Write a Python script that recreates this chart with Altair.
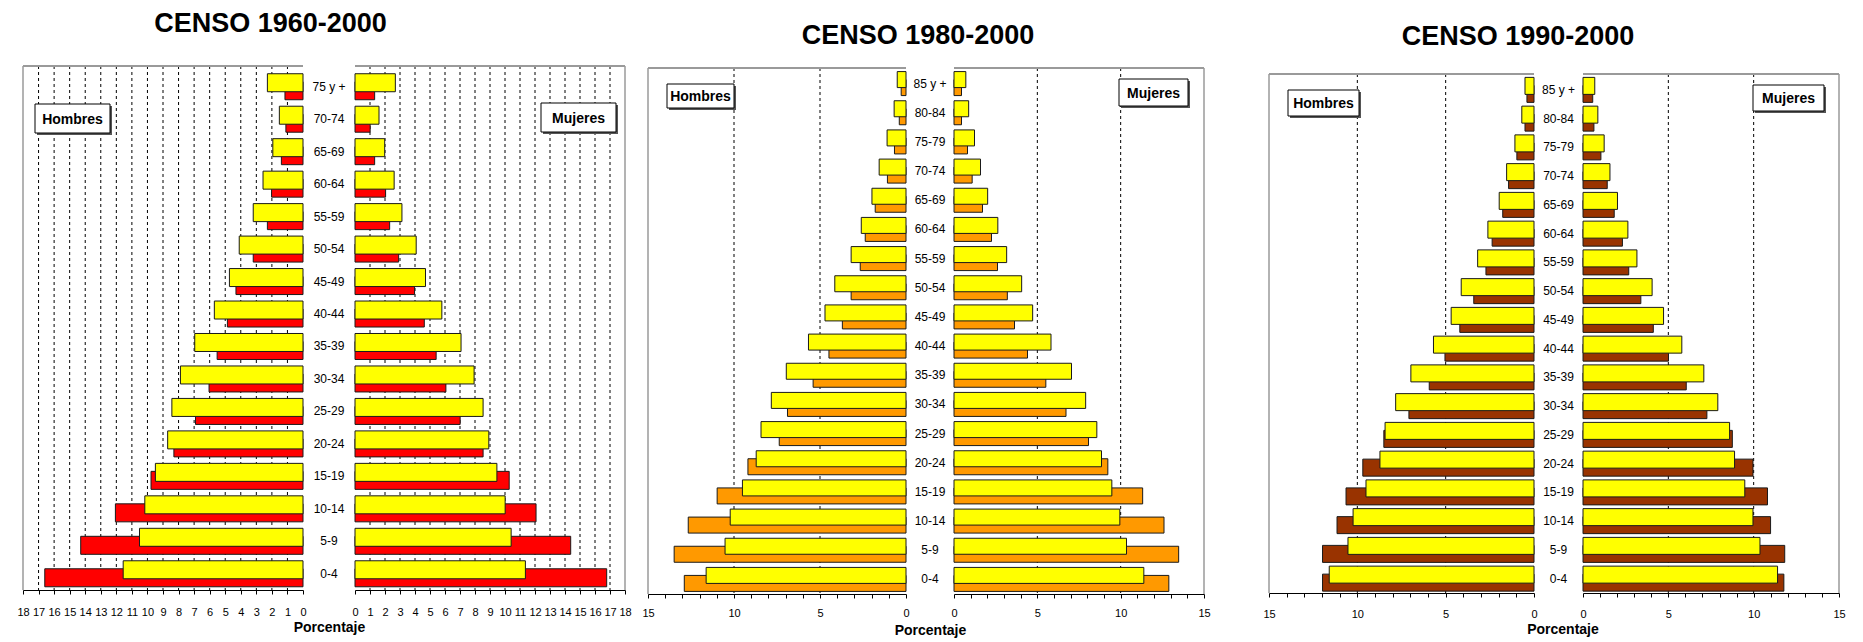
import altair as alt
import pandas as pd

FONT = "Liberation Sans, Arial, sans-serif"

# ---------------- data ----------------
edades_75 = ["75 y +", "70-74", "65-69", "60-64", "55-59", "50-54", "45-49", "40-44",
             "35-39", "30-34", "25-29", "20-24", "15-19", "10-14", "5-9", "0-4"]
edades_85 = ["85 y +", "80-84", "75-79", "70-74", "65-69", "60-64", "55-59", "50-54",
             "45-49", "40-44", "35-39", "30-34", "25-29", "20-24", "15-19", "10-14", "5-9", "0-4"]

# CENSO 1960-2000
hombres_1960 = [1.16, 1.10, 1.39, 2.02, 2.29, 3.20, 4.31, 4.86, 5.52, 6.04, 6.91, 8.30, 9.77, 12.06, 14.29, 16.60]
hombres_2000_a = [2.29, 1.52, 1.94, 2.57, 3.20, 4.10, 4.73, 5.70, 6.96, 7.88, 8.43, 8.70, 9.49, 10.17, 10.51, 11.56]
mujeres_1960 = [1.31, 1.01, 1.31, 2.04, 2.31, 2.91, 3.97, 4.62, 5.41, 6.06, 7.01, 8.54, 10.28, 12.07, 14.38, 16.78]
mujeres_2000_a = [2.69, 1.60, 1.98, 2.61, 3.13, 4.08, 4.70, 5.79, 7.07, 7.94, 8.54, 8.92, 9.46, 10.01, 10.41, 11.36]

# CENSO 1980-2000
hombres_1980 = [0.28, 0.39, 0.67, 1.08, 1.79, 2.37, 2.66, 3.19, 3.70, 4.48, 5.40, 6.89, 7.37, 9.19, 10.98, 12.66, 13.48, 12.89]
hombres_2000_b = [0.51, 0.69, 1.10, 1.56, 1.98, 2.60, 3.19, 4.14, 4.71, 5.67, 6.96, 7.83, 8.43, 8.71, 9.51, 10.22, 10.52, 11.62]
mujeres_1980 = [0.45, 0.45, 0.81, 1.09, 1.71, 2.25, 2.61, 3.20, 3.63, 4.41, 5.51, 6.72, 8.07, 9.23, 11.32, 12.60, 13.48, 12.89]
mujeres_2000_b = [0.71, 0.88, 1.23, 1.59, 2.02, 2.63, 3.16, 4.06, 4.72, 5.82, 7.05, 7.90, 8.57, 8.85, 9.47, 9.95, 10.35, 11.39]

# CENSO 1990-2000
hombres_1990 = [0.40, 0.51, 0.97, 1.44, 1.77, 2.37, 2.72, 3.41, 4.20, 5.04, 5.93, 7.08, 8.50, 9.69, 10.64, 11.15, 11.97, 11.97]
hombres_2000_c = [0.51, 0.69, 1.08, 1.55, 1.97, 2.61, 3.19, 4.12, 4.69, 5.69, 6.97, 7.83, 8.43, 8.72, 9.51, 10.24, 10.53, 11.59]
mujeres_1990 = [0.57, 0.64, 1.05, 1.42, 1.83, 2.31, 2.68, 3.39, 4.12, 5.01, 6.05, 7.26, 8.75, 9.96, 10.81, 10.99, 11.82, 11.77]
mujeres_2000_c = [0.69, 0.87, 1.24, 1.58, 2.02, 2.63, 3.16, 4.05, 4.72, 5.79, 7.08, 7.90, 8.59, 8.88, 9.48, 9.96, 10.37, 11.40]

ticks_18 = list(range(0, 19))
ticks_15 = list(range(0, 16))
grid_18 = list(range(1, 18))
grid_15 = [5, 10]

titulos = ["CENSO 1960-2000", "CENSO 1980-2000", "CENSO 1990-2000"]

# ---------------- styles ----------------
AMARILLO = "#FFFF00"
ROJO = "#FF0000"
NARANJA = "#FF9900"
MARRON = "#993300"
BORDE = "#1a1a1a"
MARCO = "#9a9a9a"

one = pd.DataFrame({"k": [0]})


def label_box(x1, y1, x2, y2, text):
    shadow = alt.Chart(one).mark_rect(fill="#555555").encode(
        x=alt.value(x1 + 2), x2=alt.value(x2 + 2), y=alt.value(y1 + 2), y2=alt.value(y2 + 2))
    box = alt.Chart(one).mark_rect(fill="white", stroke="black", strokeWidth=1).encode(
        x=alt.value(x1), x2=alt.value(x2), y=alt.value(y1), y2=alt.value(y2))
    label = alt.Chart(one).mark_text(text=text, font=FONT, fontSize=14, fontWeight="bold",
                                     align="center", baseline="middle", color="black").encode(
        x=alt.value((x1 + x2) / 2), y=alt.value((y1 + y2) / 2 + 1))
    return [shadow, box, label]


def half(side, ages, old, new, old_color, xmax, ticks, step, grids, W, H, yrange, top,
         size, lab_pad, box, box_text, por=None):
    df = pd.DataFrame({"edad": ages, "anterior": old, "actual": new})
    xs = alt.Scale(domain=[0, xmax], reverse=(side == "L"), nice=False, zero=True)
    ys = alt.Scale(domain=ages, range=yrange, paddingInner=0, paddingOuter=0)
    axis_kw = dict(values=ticks, labelExpr=f"datum.value % {step} === 0 ? datum.label : ''",
                   grid=False, domain=True, ticks=True, labels=True,
                   domainColor="black", domainWidth=1, tickColor="black",
                   tickSize=4, tickWidth=1, labelFont=FONT, labelFontSize=11,
                   labelColor="black", labelPadding=lab_pad, labelFlush=False,
                   labelOverlap=False, labelAngle=0, orient="bottom")
    if por is not None:
        axis_kw.update(title="Porcentaje", titleX=por[0], titleY=por[1], titleAlign="center",
                       titleBaseline="alphabetic", titleFont=FONT, titleFontSize=14,
                       titleFontWeight="bold", titleColor="black")
    else:
        axis_kw.update(title=None)
    ax = alt.Axis(**axis_kw)

    gdf = pd.DataFrame({"g": grids})
    grid = alt.Chart(gdf).mark_rule(color="black", strokeWidth=1, strokeDash=[3, 3]).encode(
        x=alt.X("g:Q", scale=xs, axis=ax), y=alt.value(top), y2=alt.value(H))
    old_bars = alt.Chart(df).mark_bar(size=size, yOffset=4, fill=old_color, stroke=BORDE,
                                      strokeWidth=1).encode(
        x=alt.X("anterior:Q", scale=xs, axis=ax),
        y=alt.Y("edad:N", scale=ys, axis=None))
    new_bars = alt.Chart(df).mark_bar(size=size, yOffset=-4, fill=AMARILLO, stroke=BORDE,
                                      strokeWidth=1).encode(
        x=alt.X("actual:Q", scale=xs, axis=ax),
        y=alt.Y("edad:N", scale=ys, axis=None))
    edge = 0 if side == "L" else W
    top_line = alt.Chart(one).mark_rule(color=MARCO, strokeWidth=2).encode(
        x=alt.value(0), x2=alt.value(W), y=alt.value(top))
    side_line = alt.Chart(one).mark_rule(color=MARCO, strokeWidth=1.5).encode(
        x=alt.value(edge), y=alt.value(top), y2=alt.value(H))
    layers = [grid, old_bars, new_bars, top_line, side_line] + label_box(*box, box_text)
    return alt.layer(*layers).properties(width=W, height=H)


def middle(ages, W, H, yrange, title, dx, offset, dy):
    df = pd.DataFrame({"edad": ages})
    ys = alt.Scale(domain=ages, range=yrange, paddingInner=0, paddingOuter=0)
    return alt.Chart(df).mark_text(font=FONT, fontSize=12, color="black", align="center",
                                   baseline="middle").encode(
        y=alt.Y("edad:N", scale=ys, axis=None), text="edad:N", x=alt.value(W / 2)
    ).properties(width=W, height=H,
                 title=alt.TitleParams(text=title, font=FONT, fontSize=27, fontWeight="bold",
                                       color="black", anchor="middle", dx=dx, dy=dy,
                                       offset=offset, baseline="alphabetic"))


def spacer(W, H):
    return alt.Chart(one).mark_text(text=" ").encode(
        x=alt.value(0), y=alt.value(0)).properties(width=W, height=H)


# ---------------- panels ----------------
H1, H2, H3 = 524, 528, 527
yr1, yr2, yr3 = [4.5, 524], [3, 528], [9.5, 527]

L1 = half("L", edades_75, hombres_1960, hombres_2000_a, ROJO, 18, ticks_18, 1, grid_18,
          280, H1, yr1, 0, 18, 12, (12, 38, 87, 67), "Hombres", por=(306, 41))
M1 = middle(edades_75, 52, H1, yr1, titulos[0], -58.5, 7, 0)
R1 = half("R", edades_75, mujeres_1960, mujeres_2000_a, ROJO, 18, ticks_18, 1, grid_18,
          270, H1, yr1, 0, 18, 12, (186, 37, 261, 66), "Mujeres")

L2 = half("L", edades_85, hombres_1980, hombres_2000_b, NARANJA, 15, ticks_15, 5, grid_15,
          258, H2, yr2, 2, 16, 9, (19, 18, 86, 42), "Hombres", por=(282, 40))
M2 = middle(edades_85, 48, H2, yr2, titulos[1], -12, 0, 5.3)
R2 = half("R", edades_85, mujeres_1980, mujeres_2000_b, NARANJA, 15, ticks_15, 5, grid_15,
          250, H2, yr2, 2, 16, 9, (165, 13, 234, 40), "Mujeres")

L3 = half("L", edades_85, hombres_1990, hombres_2000_c, MARRON, 15, ticks_15, 5, grid_15,
          265, H3, yr3, 8, 17, 11, (19, 24, 90, 50), "Hombres", por=(293.5, 40))
M3 = middle(edades_85, 49, H3, yr3, titulos[2], -40.5, 0, 6)
R3 = half("R", edades_85, mujeres_1990, mujeres_2000_c, MARRON, 15, ticks_15, 5, grid_15,
          256, H3, yr3, 8, 17, 11, (170, 19, 241, 45), "Mujeres")

chart = alt.hconcat(L1, M1, R1, spacer(23, H1), L2, M2, R2, spacer(65, H2), L3, M3, R3,
                    spacing=0, bounds="flush").configure_view(stroke=None).properties(
    padding={"left": 8, "top": 2, "right": 0, "bottom": 2})

chart.save("out.html", embed_options={"renderer": "svg", "actions": False})
